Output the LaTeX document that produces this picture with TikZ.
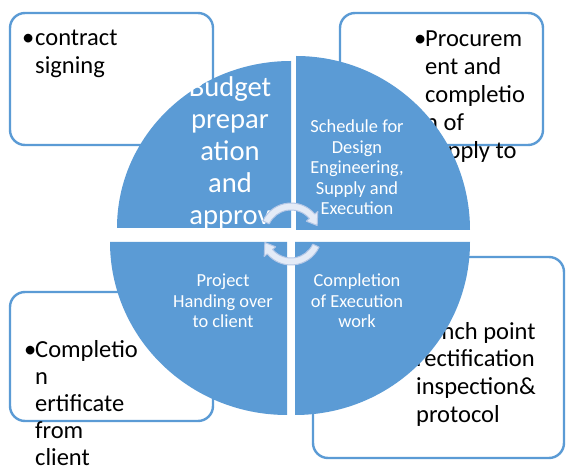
\documentclass[tikz,border=0pt]{standalone}
\usepackage{fontspec}
\setmainfont{Carlito}
\definecolor{qblue}{RGB}{91,155,213}
\definecolor{arrfill}{RGB}{228,235,247}
\definecolor{arredge}{RGB}{180,199,230}
\tikzset{
  quad/.style={fill=qblue, draw=none},
  infobox/.style={draw=qblue, line width=2.4pt, fill=white, rounded corners=15pt},
  boxtxt/.style={anchor=base west, inner sep=0pt, font=\fontsize{24.5}{28}\selectfont, text=black},
  bigtxt/.style={anchor=base, inner sep=0pt, font=\fontsize{28.6}{32}\selectfont, text=white},
  smalltxt/.style={anchor=base, inner sep=0pt, font=\fontsize{18.4}{20.4}\selectfont, text=white},
  cycarrow/.style={fill=arrfill, draw=arredge, line width=1pt, line join=round},
}
\begin{document}
\begin{tikzpicture}[x=1pt,y=1pt]
\useasboundingbox (0,0) rectangle (566,466);
\fill[white] (0,0) rectangle (566,466);

% outer boxes
\draw[infobox] (10,321) rectangle (213,453);
\draw[infobox] (340,321) rectangle (543,453);
\draw[infobox] (10,45) rectangle (213,174);
\draw[infobox] (313,8) rectangle (564,209);

% box texts
\node[boxtxt] (b1a) at (22,420) {•};
\node[boxtxt] (t1a) at (35,420) {contract};
\node[boxtxt] (t1b) at (35,392) {signing};

\node[boxtxt] (b2a) at (414,419) {•};
\node[boxtxt] (t2a) at (425,419) {Procurem};
\node[boxtxt] (t2b) at (425,391) {ent and};
\node[boxtxt] (t2c) at (425,363) {completio};
\node[boxtxt] (t2d) at (425,335) {n of};
\node[boxtxt] (t2e) at (425,307) {supply to};

\node[boxtxt] (b3a) at (24,108) {•};
\node[boxtxt] (t3a) at (35,108) {Completio};
\node[boxtxt] (t3b) at (35,81) {n};
\node[boxtxt] (t3c) at (35,54) {ertificate};
\node[boxtxt] (t3d) at (35,27) {from};
\node[boxtxt] (t3e) at (35,0) {client};

\node[boxtxt] (b4a) at (405,126) {•};
\node[boxtxt] (t4a) at (416,126) {Punch point};
\node[boxtxt] (t4b) at (416,99) {rectification};
\node[boxtxt] (t4c) at (416,71) {inspection\&};
\node[boxtxt] (t4d) at (416,43) {protocol};

% quadrants
\fill[quad] (291,238) -- (117,238) arc[start angle=180, end angle=90, x radius=174pt, y radius=167pt] -- cycle;
\fill[quad] (296,236) -- (296,410) arc[start angle=90, end angle=0, x radius=174pt, y radius=174pt] -- cycle;
\fill[quad] (287,224) -- (110,224) arc[start angle=180, end angle=270, x radius=177pt, y radius=173pt] -- cycle;
\fill[quad] (295,224) -- (470,224) arc[start angle=0, end angle=-90, x radius=175pt, y radius=173pt] -- cycle;

% quadrant texts
\node[bigtxt] (q1a) at (230,369) {Budget};
\node[bigtxt] (q1b) at (230,337) {prepar};
\node[bigtxt] (q1c) at (230,305) {ation};
\node[bigtxt] (q1d) at (230,273) {and};
\node[bigtxt] (q1e) at (230,241) {approv};

\node[smalltxt] (q2a) at (357,333) {Schedule for};
\node[smalltxt] (q2b) at (357,312) {Design};
\node[smalltxt] (q2c) at (357,292) {Engineering,};
\node[smalltxt] (q2d) at (357,271) {Supply and};
\node[smalltxt] (q2e) at (357,251) {Execution};

\node[smalltxt] (q3a) at (223,179) {Project};
\node[smalltxt] (q3b) at (223,158.5) {Handing over};
\node[smalltxt] (q3c) at (223,138) {to client};

\node[smalltxt] (q4a) at (357,179) {Completion};
\node[smalltxt] (q4b) at (357,158.5) {of Execution};
\node[smalltxt] (q4c) at (357,138) {work};

% circular arrows
\begin{scope}[shift={(291,232)}]
  \draw[cycarrow] (155:31pt) arc[start angle=155, end angle=40, radius=31pt]
     -- (40:35pt) -- (18:27.5pt) -- (40:20pt) -- (40:24pt)
     arc[start angle=40, end angle=155, radius=24pt] -- cycle;
  \begin{scope}[rotate=180]
  \draw[cycarrow] (155:31pt) arc[start angle=155, end angle=40, radius=31pt]
     -- (40:35pt) -- (18:27.5pt) -- (40:20pt) -- (40:24pt)
     arc[start angle=40, end angle=155, radius=24pt] -- cycle;
  \end{scope}
\end{scope}
\end{tikzpicture}
\end{document}
